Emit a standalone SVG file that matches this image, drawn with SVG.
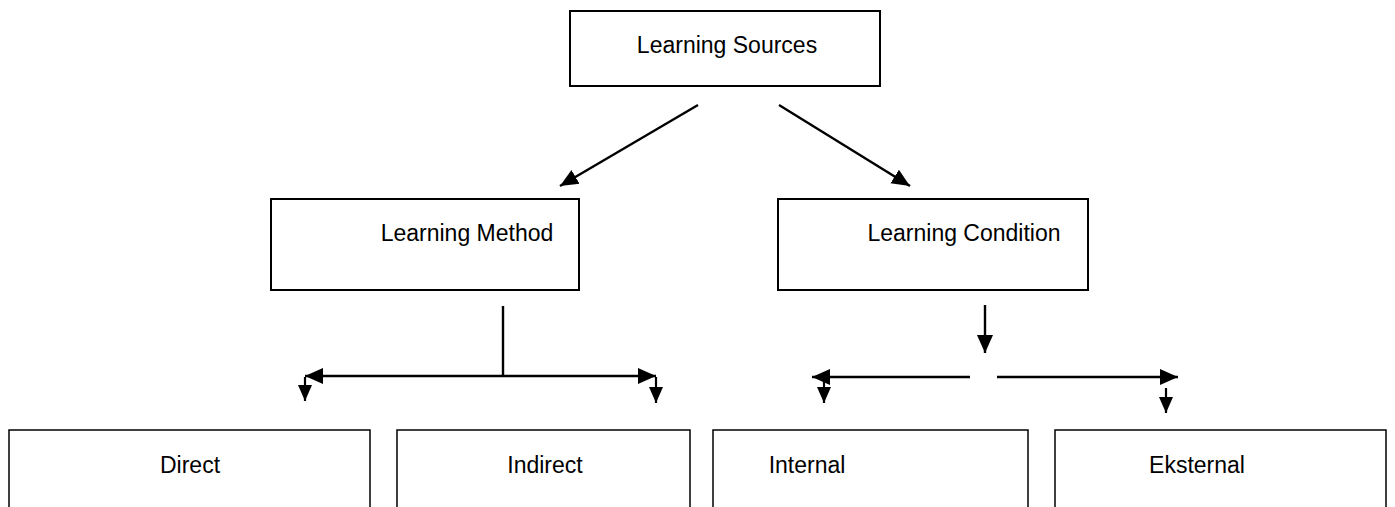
<svg xmlns="http://www.w3.org/2000/svg" width="1395" height="507" viewBox="0 0 1395 507">
<style>
.box{fill:#fff;stroke:#000;stroke-width:2}
.bbox{fill:#fff;stroke:#000;stroke-width:1.5}
.lbl{font-family:"Liberation Sans",Arial,sans-serif;font-size:23px;fill:#000;text-anchor:middle}
.ln{stroke:#000;stroke-width:2.4;fill:none}
.ar{stroke:#000;stroke-width:2.4;fill:none;marker-end:url(#ah)}
.ars{stroke:#000;stroke-width:2.2;fill:none;marker-end:url(#ahs)}
</style>
<defs>
<marker id="ah" markerUnits="userSpaceOnUse" markerWidth="20" markerHeight="18" refX="18" refY="8" orient="auto" viewBox="0 0 20 16">
<path d="M0,0 L18,8 L0,16 Z" fill="#000"/>
</marker>
<marker id="ahs" markerUnits="userSpaceOnUse" markerWidth="18" markerHeight="16" refX="16" refY="7" orient="auto" viewBox="0 0 18 14">
<path d="M0,0 L16,7 L0,14 Z" fill="#000"/>
</marker>
</defs>
<rect width="1395" height="507" fill="#fff"/>
<g id="n-sources">
<rect class="box" x="570" y="11" width="310" height="75"/>
<text class="lbl" x="727" y="53">Learning Sources</text>
</g>
<g id="n-method">
<rect class="box" x="271" y="199" width="308" height="91"/>
<text class="lbl" x="467" y="241">Learning Method</text>
</g>
<g id="n-condition">
<rect class="box" x="778" y="199" width="310" height="91"/>
<text class="lbl" x="964" y="241">Learning Condition</text>
</g>
<g id="n-direct">
<rect class="bbox" x="9" y="430" width="361" height="90"/>
<text class="lbl" x="190" y="473">Direct</text>
</g>
<g id="n-indirect">
<rect class="bbox" x="397" y="430" width="293" height="90"/>
<text class="lbl" x="545" y="473">Indirect</text>
</g>
<g id="n-internal">
<rect class="bbox" x="713" y="430" width="315" height="90"/>
<text class="lbl" x="807" y="473">Internal</text>
</g>
<g id="n-eksternal">
<rect class="bbox" x="1055" y="430" width="331" height="90"/>
<text class="lbl" x="1197" y="473">Eksternal</text>
</g>
<g id="connectors">
<line class="ar" x1="698" y1="105" x2="560" y2="186"/>
<line class="ar" x1="779" y1="105" x2="910" y2="186"/>
<line class="ln" x1="503" y1="306" x2="503" y2="377"/>
<line class="ar" x1="503" y1="376" x2="305" y2="376"/>
<line class="ar" x1="503" y1="376" x2="656" y2="376"/>
<line class="ars" x1="305" y1="377" x2="305" y2="401"/>
<line class="ars" x1="656" y1="377" x2="656" y2="403"/>
<line class="ar" x1="985" y1="305" x2="985" y2="353"/>
<line class="ar" x1="970" y1="377" x2="812" y2="377"/>
<line class="ar" x1="997" y1="377" x2="1178" y2="377"/>
<line class="ars" x1="824" y1="378" x2="824" y2="403"/>
<line class="ars" x1="1166" y1="388" x2="1166" y2="413"/>
</g>
</svg>
